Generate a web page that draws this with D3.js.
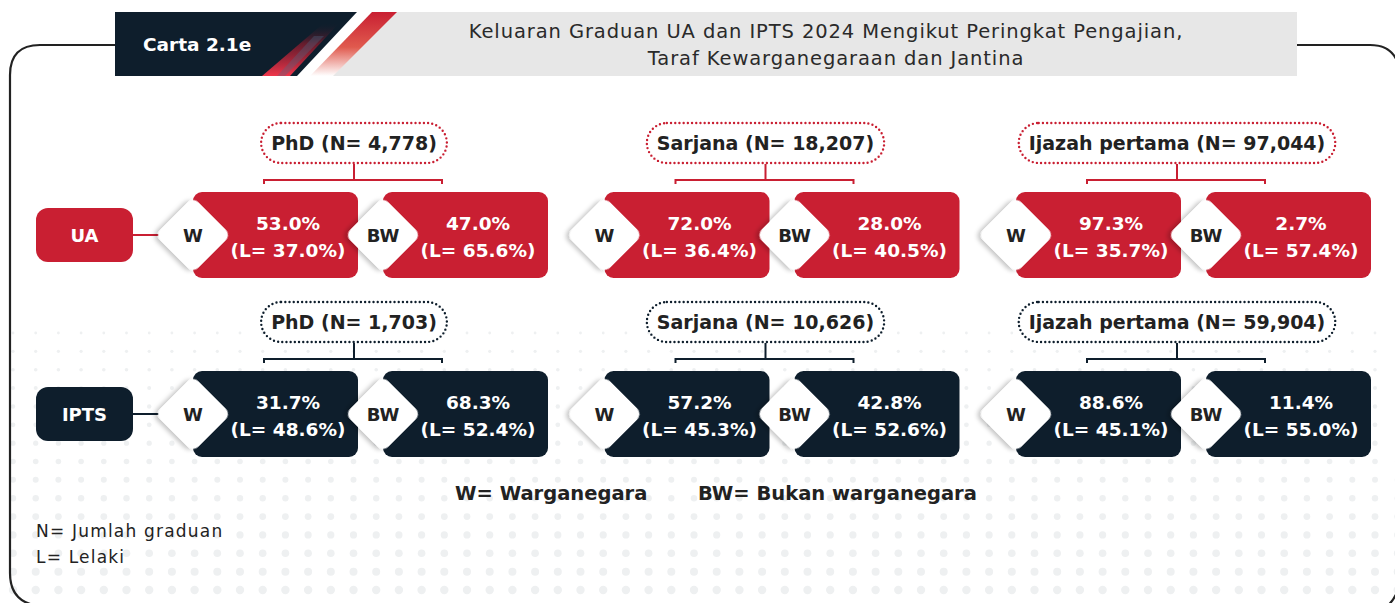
<!DOCTYPE html>
<html>
<head>
<meta charset="utf-8">
<script src="https://cdn.jsdelivr.net/npm/d3@7"></script>
<style>
  html, body { margin: 0; padding: 0; background: #fff; }
  svg { display: block; font-family: "DejaVu Sans", "Open Sans", sans-serif; }
</style>
</head>
<body>
<div id="chart"></div>
<script>
// --------------------------------------
//  Data
// --------------------------------------

const levels = ["PhD", "Sarjana", "Ijazah pertama"];
const institutions = ["UA", "IPTS"];

// jumlah graduan (N) per institution, per level
const nUA   = ["4,778", "18,207", "97,044"];
const nIPTS = ["1,703", "10,626", "59,904"];

// warganegara (W) and bukan warganegara (BW) shares, %
const wUA    = [53.0, 72.0, 97.3];
const bwUA   = [47.0, 28.0, 2.7];
const wIPTS  = [31.7, 57.2, 88.6];
const bwIPTS = [68.3, 42.8, 11.4];

// share of lelaki (L) inside each group, %
const wLUA    = [37.0, 36.4, 35.7];
const bwLUA   = [65.6, 40.5, 57.4];
const wLIPTS  = [48.6, 45.3, 45.1];
const bwLIPTS = [52.4, 52.6, 55.0];

const citizenship = ["W", "BW"];

const rows = institutions.map((inst, i) => ({
  inst,
  n:   i === 0 ? nUA : nIPTS,
  w:   i === 0 ? wUA : wIPTS,
  bw:  i === 0 ? bwUA : bwIPTS,
  wL:  i === 0 ? wLUA : wLIPTS,
  bwL: i === 0 ? bwLUA : bwLIPTS
}));

// --------------------------------------
//  Canvas
// --------------------------------------

const width = 1395, height = 603;
const red = "#c91f32", navy = "#0e1e2c", ink = "#222222";
const colour = {UA: red, IPTS: navy};

const svg = d3.select("#chart").append("svg")
  .attr("width", width).attr("height", height)
  .attr("viewBox", `0 0 ${width} ${height}`);

const defs = svg.append("defs");

// --------------------------------------
//  Scales
// --------------------------------------

const x = d3.scaleBand().domain(levels).range([193, 193 + 3 * 411.5]);
const y = d3.scaleBand().domain(institutions).range([123, 123 + 2 * 179]);
const xc = d3.scaleOrdinal().domain(citizenship).range([0, 190]);
const fmt = d3.format(".1f");

// --------------------------------------
//  Dotted background
// --------------------------------------

const dotRows = d3.range(0, 15);
const dotCols = d3.range(0, 62);
const dotY = d3.scaleLinear().domain([0, 14]).range([333, 590]);
const dotR = d3.scaleLinear().domain([0, 14]).range([1.4, 4.2]);
const dotG = svg.append("g");
dotRows.forEach(r => {
  dotG.selectAll(null).data(dotCols).join("circle")
    .attr("cx", c => 13 + c * 22.7)
    .attr("cy", dotY(r))
    .attr("r", dotR(r))
    .attr("fill", "#eef0f1");
});

// --------------------------------------
//  Frame and header
// --------------------------------------

svg.append("path")
  .attr("d", "M115,45 H40 Q10,45 10,75 V573 Q10,603 40,606")
  .attr("fill", "none").attr("stroke", ink).attr("stroke-width", 2.2);
svg.append("path")
  .attr("d", "M1297,45 H1370 Q1398,45 1400,75 M1400,580 Q1398,600 1380,612")
  .attr("fill", "none").attr("stroke", ink).attr("stroke-width", 2.2);

svg.append("rect").attr("x", 300).attr("y", 12).attr("width", 997).attr("height", 64)
  .attr("fill", "#e7e7e7");

const g1 = defs.append("linearGradient").attr("id", "stripeA")
  .attr("x1", 0).attr("y1", 0).attr("x2", 0).attr("y2", 1);
g1.append("stop").attr("offset", 0).attr("stop-color", "#c91f32");
g1.append("stop").attr("offset", 0.55).attr("stop-color", "#e05a4e");
g1.append("stop").attr("offset", 1).attr("stop-color", "#ffffff");

const g2 = defs.append("linearGradient").attr("id", "stripeB")
  .attr("x1", 0).attr("y1", 1).attr("x2", 0).attr("y2", 0);
g2.append("stop").attr("offset", 0).attr("stop-color", "#f0364b");
g2.append("stop").attr("offset", 0.6).attr("stop-color", "#a01b2e").attr("stop-opacity", 0.6);
g2.append("stop").attr("offset", 1).attr("stop-color", "#0d1d2b").attr("stop-opacity", 0);

svg.append("path").attr("d", "M352,12 H372 L312,76 H292 Z").attr("fill", "#ffffff");
svg.append("path").attr("d", "M372,12 H397 L333,76 H310 Z").attr("fill", "url(#stripeA)");
svg.append("path").attr("d", "M115,12 H357 L297,76 H115 Z").attr("fill", navy);
svg.append("path").attr("d", "M325,22 H340 L290,76 H262 Z").attr("fill", "url(#stripeB)");
svg.append("path").attr("d", "M314,36 H324 L285,76 H277 Z").attr("fill", "#4a6a86").attr("opacity", 0.35);

svg.append("text").attr("x", 143).attr("y", 51)
  .attr("fill", "#fff").attr("font-weight", 700).attr("font-size", 18.5)
  .text("Carta 2.1e");

const title = svg.append("text").attr("fill", "#2a2a2a").attr("font-size", 19.5)
  .attr("letter-spacing", 0.9).attr("text-anchor", "middle");
title.append("tspan").attr("x", 826).attr("y", 38)
  .text("Keluaran Graduan UA dan IPTS 2024 Mengikut Peringkat Pengajian,");
title.append("tspan").attr("x", 836).attr("y", 65)
  .text("Taraf Kewarganegaraan dan Jantina");

// --------------------------------------
//  Diamond shadow
// --------------------------------------

const sh = defs.append("filter").attr("id", "shadow")
  .attr("x", "-30%").attr("y", "-30%").attr("width", "160%").attr("height", "160%");
sh.append("feDropShadow").attr("dx", -2).attr("dy", 3).attr("stdDeviation", 2)
  .attr("flood-color", "#000").attr("flood-opacity", 0.22);

// --------------------------------------
//  Rows
// --------------------------------------

rows.forEach(row => {
  const top = y(row.inst);
  const cy = top + 112;
  const col = colour[row.inst];
  const rg = svg.append("g");

  // row label
  rg.append("line").attr("x1", 133).attr("x2", 160).attr("y1", cy).attr("y2", cy)
    .attr("stroke", col).attr("stroke-width", 2);
  rg.append("rect").attr("x", 36).attr("y", cy - 27).attr("width", 97).attr("height", 54)
    .attr("rx", 12).attr("fill", col);
  rg.append("text").attr("x", 84.5).attr("y", cy + 7).attr("text-anchor", "middle")
    .attr("fill", "#fff").attr("font-weight", 700).attr("font-size", 18)
    .text(row.inst);

  levels.forEach((lvl, i) => {
    const x0 = x(lvl);
    const g = rg.append("g");

    // pill
    const label = g.append("text").attr("x", x0 + 161).attr("y", top + 27)
      .attr("text-anchor", "middle").attr("fill", ink)
      .attr("font-weight", 700).attr("font-size", 19)
      .text(`${lvl} (N= ${row.n[i]})`);
    const tw = label.node().getComputedTextLength();
    g.insert("rect", "text").attr("x", x0 + 161 - tw / 2 - 10).attr("y", top)
      .attr("width", tw + 20).attr("height", 40).attr("rx", 20)
      .attr("fill", "#fff").attr("stroke", col).attr("stroke-width", 2.4)
      .attr("stroke-dasharray", "0 4.2").attr("stroke-linecap", "round");

    // bracket
    g.append("path")
      .attr("d", `M${x0 + 161},${top + 41} V${top + 57} M${x0 + 71},${top + 61} V${top + 57} H${x0 + 249} V${top + 61}`)
      .attr("fill", "none").attr("stroke", col).attr("stroke-width", 2);

    const vals = {W: [row.w[i], row.wL[i]], BW: [row.bw[i], row.bwL[i]]};
    citizenship.forEach(c => {
      const bx = x0 + xc(c);
      g.append("rect").attr("x", bx).attr("y", top + 69).attr("width", 165).attr("height", 86)
        .attr("rx", 9).attr("fill", col);
      g.append("rect").attr("x", -27).attr("y", -27).attr("width", 54).attr("height", 54)
        .attr("rx", 8).attr("fill", "#fff").attr("filter", "url(#shadow)")
        .attr("transform", `translate(${bx},${cy}) rotate(45)`);
      g.append("text").attr("x", bx).attr("y", cy + 7).attr("text-anchor", "middle")
        .attr("fill", ink).attr("font-weight", 700).attr("font-size", 18)
        .text(c);
      const t = g.append("text").attr("text-anchor", "middle").attr("fill", "#fff")
        .attr("font-weight", 700).attr("font-size", 18.5);
      t.append("tspan").attr("x", bx + 95).attr("y", top + 107).text(`${fmt(vals[c][0])}%`);
      t.append("tspan").attr("x", bx + 95).attr("y", top + 134).text(`(L= ${fmt(vals[c][1])}%)`);
    });
  });
});

// --------------------------------------
//  Legend and notes
// --------------------------------------

svg.append("text").attr("x", 455).attr("y", 500).attr("fill", ink)
  .attr("font-weight", 700).attr("font-size", 19.5).text("W= Warganegara");
svg.append("text").attr("x", 698).attr("y", 500).attr("fill", ink)
  .attr("font-weight", 700).attr("font-size", 19.5).text("BW= Bukan warganegara");

svg.append("text").attr("x", 36).attr("y", 537).attr("fill", ink)
  .attr("font-size", 17).attr("letter-spacing", 1.2).text("N= Jumlah graduan");
svg.append("text").attr("x", 36).attr("y", 563).attr("fill", ink)
  .attr("font-size", 17).attr("letter-spacing", 1.2).text("L= Lelaki");
</script>
</body>
</html>
